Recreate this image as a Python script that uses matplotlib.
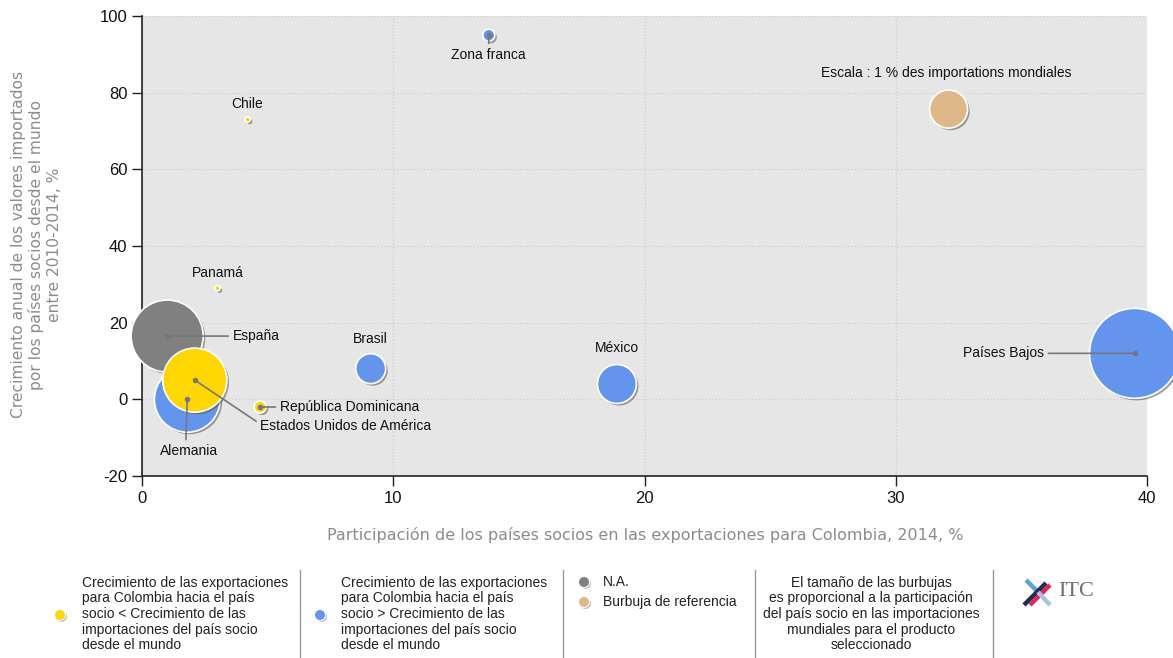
import matplotlib
matplotlib.use("Agg")
import matplotlib.pyplot as plt
import matplotlib.patheffects as pe
from matplotlib.lines import Line2D

plt.rcParams['font.family'] = ['Liberation Sans', 'DejaVu Sans']
plt.rcParams['axes.unicode_minus'] = False

# partner countries
names = ["Zona franca", "Chile", "Panamá", "España", "Alemania",
         "Estados Unidos de América", "República Dominicana", "Brasil",
         "México", "Países Bajos"]
export_share = [13.8, 4.2, 3.0, 1.0, 1.8, 2.1, 4.7, 9.1, 18.9, 39.5]
import_growth = [95, 73, 29, 16.5, 0, 5, -2, 8, 4, 12]
world_share = [0.1, 0.02, 0.02, 3.6, 3.0, 2.85, 0.1, 0.62, 1.05, 5.6]
group = ["mas", "menos", "menos", "na", "mas", "menos", "menos", "mas", "mas", "mas"]

# reference bubble
ref_x, ref_y, ref_share = 32.1, 75.7, 1.0
ref_text = "Escala : 1 % des importations mondiales"

colors = {"menos": "#FFD700", "mas": "#6495ED", "na": "#808080", "ref": "#DEB887"}
SIZE_PER_PCT = 748  # points^2 for 1 % of world imports

# label offsets (points) and whether a leader line is drawn
label_off = {
    "Zona franca": ((0, -14), 'center', (0.5, 1), True),
    "Chile": ((0, 11), 'center', None, False),
    "Panamá": ((0, 11), 'center', None, False),
    "España": ((47, 0), 'left', (0, 0.5), True),
    "Alemania": ((1, -37), 'center', (0.45, 1), True),
    "Estados Unidos de América": ((47, -33), 'left', (0, 0.65), True),
    "República Dominicana": ((14, 0), 'left', (0, 0.5), True),
    "Brasil": ((0, 21), 'center', None, False),
    "México": ((0, 26), 'center', None, False),
    "Países Bajos": ((-65, 0), 'right', (1, 0.5), True),
}

fig = plt.figure(figsize=(11.73, 6.58), dpi=100)
ax = fig.add_axes([0.1211, 0.2766, 0.8568, 0.6991])
ax.set_facecolor("#E6E6E6")

shadow = [pe.SimplePatchShadow(offset=(1.5, -1.5), shadow_rgbFace='#555555', alpha=0.55), pe.Normal()]

order = sorted(range(len(names)), key=lambda i: -world_share[i])
for i in order:
    ax.scatter(export_share[i], import_growth[i], s=world_share[i] * SIZE_PER_PCT,
               color=colors[group[i]], edgecolor='white', linewidth=1.2,
               zorder=3, clip_on=False, path_effects=shadow)

ax.scatter(ref_x, ref_y, s=ref_share * SIZE_PER_PCT, color=colors["ref"],
           edgecolor='white', linewidth=1.2, zorder=3, path_effects=shadow)
ax.annotate(ref_text, (ref_x, ref_y), xytext=(-2, 26), textcoords='offset points',
            ha='center', va='center', fontsize=10, color='#111111', zorder=5)

for i, n in enumerate(names):
    off, ha, rel, line = label_off[n]
    if line:
        ax.scatter(export_share[i], import_growth[i], s=9, color='#777777', zorder=4, clip_on=False)
        ax.annotate(n, (export_share[i], import_growth[i]), xytext=off, textcoords='offset points',
                    ha=ha, va='center', fontsize=10, color='#111111', zorder=5,
                    arrowprops=dict(arrowstyle='-', color='#777777', lw=1.2, shrinkA=1, shrinkB=0,
                                    relpos=rel))
    else:
        ax.annotate(n, (export_share[i], import_growth[i]), xytext=off, textcoords='offset points',
                    ha=ha, va='center', fontsize=10, color='#111111', zorder=5)

ax.set_xlim(0, 40)
ax.set_ylim(-20, 100)
ax.set_xticks([0, 10, 20, 30, 40])
ax.set_yticks([-20, 0, 20, 40, 60, 80, 100])
ax.grid(True, color='#CFCFCF', linestyle=':', linewidth=0.9)
ax.set_axisbelow(True)
for s in ['top', 'right']:
    ax.spines[s].set_visible(False)
for s in ['left', 'bottom']:
    ax.spines[s].set_color('#222222')
    ax.spines[s].set_linewidth(1.2)
ax.tick_params(axis='both', direction='out', length=7, width=1, color='#222222',
               labelsize=12, labelcolor='#111111')

fig.text(0.55, 0.187, "Participación de los países socios en las exportaciones para Colombia, 2014, %",
         ha='center', va='center', fontsize=11.5, color='#8C8C8C', family='DejaVu Sans')
fig.text(0.031, 0.628, "Crecimiento anual de los valores importados\npor los países socios desde el mundo\nentre 2010-2014, %",
         ha='center', va='center', rotation=90, fontsize=11.2, color='#8C8C8C',
         family='DejaVu Sans', multialignment='center', linespacing=1.2)

# legend strip at the bottom
def fx(px):
    return px / 1173

def fy(py):
    return 1 - py / 658

for sx in [300, 563, 755, 993]:
    fig.add_artist(Line2D([fx(sx), fx(sx)], [fy(570), fy(658)], color='#999999', lw=1))

dot_fx = [pe.SimplePatchShadow(offset=(1, -1), shadow_rgbFace='#777777', alpha=0.5), pe.Normal()]
for (px, py), c in [((60, 615), colors["menos"]), ((320, 615), colors["mas"]),
                    ((584, 582), colors["na"]), ((584, 602), colors["ref"])]:
    fig.add_artist(Line2D([fx(px)], [fy(py)], marker='o', markersize=8, color=c,
                          markeredgecolor='white', markeredgewidth=0.8, path_effects=dot_fx))

leg_txt = "Crecimiento de las exportaciones\npara Colombia hacia el país\nsocio {} Crecimiento de las\nimportaciones del país socio\ndesde el mundo"
fig.text(fx(82), fy(614), leg_txt.format("<"), ha='left', va='center', fontsize=10,
         color='#222222', linespacing=1.15)
fig.text(fx(341), fy(614), leg_txt.format(">"), ha='left', va='center', fontsize=10,
         color='#222222', linespacing=1.15)
fig.text(fx(603), fy(582), "N.A.", ha='left', va='center', fontsize=10, color='#222222')
fig.text(fx(603), fy(602), "Burbuja de referencia", ha='left', va='center', fontsize=10, color='#222222')
fig.text(fx(871), fy(614),
         "El tamaño de las burbujas\nes proporcional a la participación\ndel país socio en las importaciones\nmundiales para el producto\nseleccionado",
         ha='center', va='center', fontsize=10, color='#222222', linespacing=1.15,
         multialignment='center')

# ITC logo
for (x0, y0, x1, y1), c in [((1026, 580, 1038, 592), '#5BA4D9'), ((1024, 605, 1046, 583), '#1F2D4F'),
                            ((1030, 605, 1050, 585), '#E0245E'), ((1038, 592, 1050, 605), '#A9C4E0')]:
    fig.add_artist(Line2D([fx(x0), fx(x1)], [fy(y0), fy(y1)], color=c, lw=3.2, solid_capstyle='butt'))
fig.text(fx(1058), fy(592), "ITC", ha='left', va='center', fontsize=16, color='#6E6E6E',
         family='Liberation Serif')

fig.savefig("out.png", dpi=100)
